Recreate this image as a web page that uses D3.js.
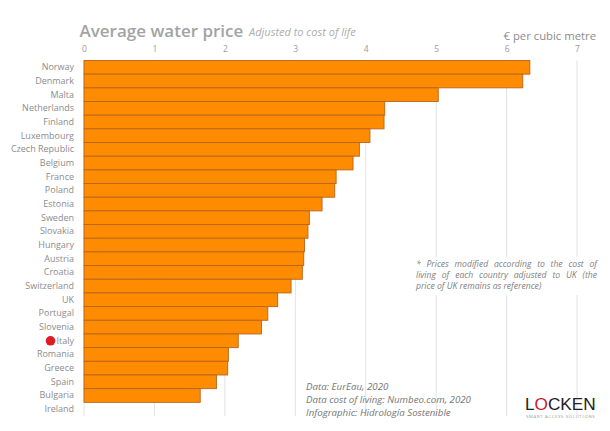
<!DOCTYPE html>
<html>
<head>
<meta charset="utf-8">
<script src="https://cdn.jsdelivr.net/npm/d3@7"></script>
<style>
  html, body { margin: 0; padding: 0; background: #fff; }
  svg { display: block; }
  text { font-family: "Open Sans", "Noto Sans", sans-serif; }
</style>
</head>
<body>
<div id="chart"></div>
<script>
// Values
var countries = ["Norway", "Denmark", "Malta", "Netherlands", "Finland", "Luxembourg",
  "Czech Republic", "Belgium", "France", "Poland", "Estonia", "Sweden", "Slovakia",
  "Hungary", "Austria", "Croatia", "Switzerland", "UK", "Portugal", "Slovenia",
  "Italy", "Romania", "Greece", "Spain", "Bulgaria", "Ireland"];
var prices = [6.33, 6.23, 5.03, 4.27, 4.26, 4.06, 3.91, 3.82, 3.58, 3.56, 3.38, 3.20, 3.18,
  3.13, 3.12, 3.10, 2.94, 2.75, 2.61, 2.52, 2.19, 2.05, 2.04, 1.88, 1.65, 0];
var xTicks = [0, 1, 2, 3, 4, 5, 6, 7];
var noteLines = ["* Prices modified according to the cost of",
  "living of each country adjusted to UK (the",
  "price of UK remains as reference)"];
var sourceLines = ["Data: EurEau, 2020",
  "Data cost of living: Numbeo.com, 2020",
  "Infographic: Hidrología Sostenible"];

var svgWidth = 610;
var svgHeight = 431;

var margin = { top: 60.5, right: 33, bottom: 15, left: 84 };
var chartWidth = svgWidth - margin.left - margin.right;
var chartHeight = svgHeight - margin.top - margin.bottom;

var svg = d3.select("#chart")
  .append("svg")
  .attr("width", svgWidth)
  .attr("height", svgHeight);

var chartGroup = svg.append("g")
  .attr("transform", `translate(${margin.left}, ${margin.top})`);

var xScale = d3.scaleLinear()
  .domain([0, 7])
  .range([0, chartWidth]);

var yScale = d3.scaleBand()
  .domain(countries)
  .range([0, chartHeight])
  .paddingInner(0);

// Gridlines
chartGroup.selectAll(".grid")
  .data(xTicks)
  .enter()
  .append("line")
  .attr("class", "grid")
  .attr("x1", d => xScale(d))
  .attr("x2", d => xScale(d))
  .attr("y1", 0)
  .attr("y2", chartHeight)
  .attr("stroke", "#e2e2e2")
  .attr("stroke-width", 1);

// Axes
var xAxis = d3.axisTop(xScale)
  .tickValues(xTicks)
  .tickFormat(d3.format("d"))
  .tickSize(0)
  .tickPadding(9);
var yAxis = d3.axisLeft(yScale).tickSize(0).tickPadding(10);

var xAxisGroup = chartGroup.append("g").call(xAxis);
xAxisGroup.select(".domain").remove();
xAxisGroup.selectAll("text")
  .attr("font-size", 8.5)
  .attr("fill", "#999999")
  .style("font-family", '"Open Sans", sans-serif');

var yAxisGroup = chartGroup.append("g").call(yAxis);
yAxisGroup.select(".domain").remove();
yAxisGroup.selectAll("text")
  .attr("font-size", 9)
  .attr("fill", "#8c8c8c")
  .style("font-family", '"Open Sans", sans-serif');

// Bars
chartGroup.selectAll(".bar")
  .data(countries.filter((c, i) => prices[i] > 0))
  .enter()
  .append("rect")
  .attr("class", "bar")
  .attr("x", 0)
  .attr("y", d => yScale(d))
  .attr("width", d => xScale(prices[countries.indexOf(d)]))
  .attr("height", yScale.bandwidth())
  .attr("fill", "#ff8c00")
  .attr("stroke", "#b5651d")
  .attr("stroke-width", 0.9);

// Red dot next to Italy
chartGroup.append("circle")
  .attr("cx", -33.5)
  .attr("cy", yScale("Italy") + yScale.bandwidth() / 2)
  .attr("r", 4.8)
  .attr("fill", "#e01b24");

// Title
svg.append("text")
  .attr("x", 79.5)
  .attr("y", 36.5)
  .attr("font-size", 17)
  .attr("font-weight", 600)
  .attr("fill", "#a3a3a3")
  .text("Average water price");

svg.append("text")
  .attr("x", 249)
  .attr("y", 36)
  .attr("font-size", 11)
  .attr("font-style", "italic")
  .attr("fill", "#adadad")
  .text("Adjusted to cost of life");

svg.append("text")
  .attr("x", 596)
  .attr("y", 40)
  .attr("text-anchor", "end")
  .attr("font-size", 11.3)
  .attr("fill", "#8c8c8c")
  .text("€ per cubic metre");

// Note, on a white patch that interrupts the gridlines
svg.append("rect")
  .attr("x", 414)
  .attr("y", 257)
  .attr("width", 186)
  .attr("height", 38)
  .attr("fill", "#fff");

var noteWidth = 181;
svg.selectAll(".note")
  .data(noteLines)
  .enter()
  .append("text")
  .attr("class", "note")
  .attr("x", 416)
  .attr("y", (d, i) => 267 + i * 11.2)
  .attr("font-size", 8.6)
  .attr("font-style", "italic")
  .attr("fill", "#808080")
  .text(d => d);

// Justify the first two lines of the note
svg.selectAll(".note").each(function(d, i) {
  if (i < 2) {
    var gaps = d.split(" ").length - 1;
    var extra = (noteWidth - this.getComputedTextLength()) / gaps;
    d3.select(this).attr("word-spacing", extra);
  }
});

// Sources
svg.selectAll(".source")
  .data(sourceLines)
  .enter()
  .append("text")
  .attr("class", "source")
  .attr("x", 306)
  .attr("y", (d, i) => 390 + i * 12.8)
  .attr("font-size", 9.7)
  .attr("font-style", "italic")
  .attr("fill", "#757575")
  .text(d => d);

// Logo
var logo = svg.append("text")
  .attr("x", 525)
  .attr("y", 410)
  .attr("font-size", 17.2)
  .attr("fill", "#222222")
  .style("font-family", '"Liberation Sans", sans-serif');
logo.append("tspan").text("L");
logo.append("tspan").attr("fill", "#c8202f").text("O");
logo.append("tspan").text("CKEN");

svg.append("text")
  .attr("x", 526)
  .attr("y", 417.5)
  .attr("font-size", 4.3)
  .attr("letter-spacing", 0.65)
  .attr("fill", "#999999")
  .text("SMART ACCESS SOLUTIONS");
</script>
</body>
</html>
